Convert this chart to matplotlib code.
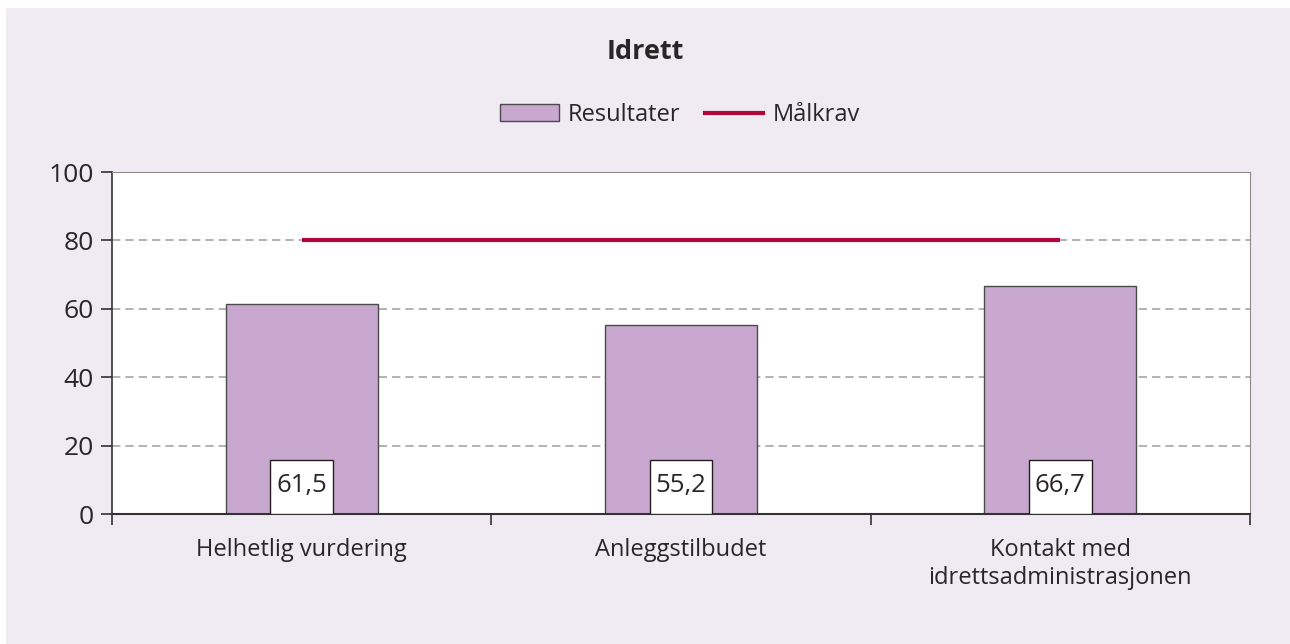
import matplotlib
matplotlib.use("Agg")
import matplotlib.pyplot as plt
from matplotlib.patches import Rectangle, Patch
from matplotlib.lines import Line2D
import numpy as np

categories = ["Helhetlig vurdering", "Anleggstilbudet", "Kontakt med\nidrettsadministrasjonen"]
resultater = [61.5, 55.2, 66.7]
malkrav = [80, 80, 80]
value_labels = ["61,5", "55,2", "66,7"]
yticks = [0, 20, 40, 60, 80, 100]

plt.rcParams['font.family'] = ['Open Sans', 'DejaVu Sans']
TXT = "#2a2627"
BG = "#f0eaf2"
BAR = "#c9a8d0"
LINE = "#b0063a"

fig = plt.figure(figsize=(12.9, 6.44), dpi=100, facecolor="white")
# lavender panel behind the chart
fig.patches.append(Rectangle((6 / 1290, 0), 1 - 6 / 1290, 1 - 8 / 644,
                             transform=fig.transFigure, facecolor=BG,
                             edgecolor="none", zorder=-10))

ax = fig.add_axes([112 / 1290, 1 - 514 / 644, 1138 / 1290, 342 / 644])
ax.set_facecolor("white")

x = np.arange(len(categories))
ax.bar(x, resultater, width=0.4, color=BAR, edgecolor="#4a4a4a", linewidth=1.0, zorder=2)
ax.plot(x, malkrav, color=LINE, linewidth=3, zorder=4, solid_capstyle="butt")

# value boxes at the base of each bar
bw, bh = 0.166, 15.8
for xi, lab in zip(x, value_labels):
    ax.add_patch(Rectangle((xi - bw / 2, 0), bw, bh, facecolor="white",
                           edgecolor="#231f20", linewidth=1.0, zorder=5))
    ax.text(xi, bh / 2 + 0.3, lab, ha="center", va="center", fontsize=18.5,
            color=TXT, zorder=6)

ax.set_xlim(-0.5, len(categories) - 0.5)
ax.set_ylim(0, 100)
ax.set_yticks(yticks)
ax.set_yticklabels([str(t) for t in yticks], fontsize=19, color=TXT)
ax.tick_params(axis="y", direction="out", length=8, width=1.2, color="#333333", pad=5)

# category boundary ticks on the x-axis, labels centered on the bars
ax.set_xticks(np.arange(-0.5, len(categories), 1.0))
ax.set_xticklabels([])
ax.set_xticks(x, minor=True)
ax.set_xticklabels(categories, minor=True, fontsize=17, color=TXT, linespacing=1.25)
ax.tick_params(axis="x", which="major", direction="out", length=8, width=1.2, color="#333333")
ax.tick_params(axis="x", which="minor", length=0, pad=17)

for yv in yticks[1:-1]:
    ax.axhline(yv, color="#a6a6a6", linewidth=1.2, linestyle=(0, (5, 3)), zorder=1)

ax.spines["left"].set_color("#333333")
ax.spines["bottom"].set_color("#333333")
ax.spines["left"].set_linewidth(1.2)
ax.spines["bottom"].set_linewidth(1.5)
ax.spines["top"].set_color("#8a8a8a")
ax.spines["right"].set_color("#8a8a8a")

fig.text(0.5, 1 - 52 / 644, "Idrett", ha="center", va="center",
         fontsize=19.5, fontweight="bold", color=TXT)

handles = [Patch(facecolor=BAR, edgecolor="#4a4a4a", linewidth=1.0),
           Line2D([0], [0], color=LINE, linewidth=3)]
fig.legend(handles, ["Resultater", "Målkrav"], loc="center",
           bbox_to_anchor=(680 / 1290, 1 - 115 / 644), ncol=2, frameon=False,
           fontsize=17, handlelength=2.46, handleheight=0.72, handletextpad=0.38,
           columnspacing=1.06, labelcolor=TXT)

fig.savefig("out.png", dpi=100, facecolor=fig.get_facecolor())
